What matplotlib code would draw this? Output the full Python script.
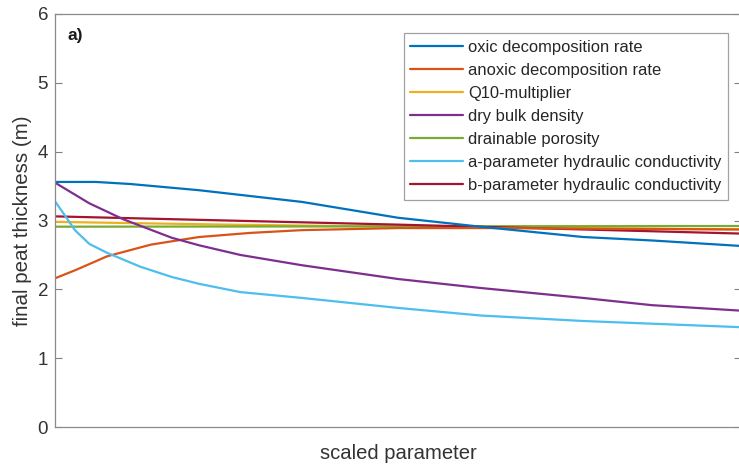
import matplotlib
matplotlib.use("Agg")
import matplotlib.pyplot as plt

plt.rcParams['font.family'] = ['Liberation Sans', 'DejaVu Sans']

# scaled parameter positions (0..1) and final peat thickness (m)
labels = ["oxic decomposition rate", "anoxic decomposition rate", "Q10-multiplier",
          "dry bulk density", "drainable porosity",
          "a-parameter hydraulic conductivity", "b-parameter hydraulic conductivity"]
colors = ["#0072BD", "#D95319", "#EDB120", "#7E2F8E", "#77AC30", "#4DBEEE", "#A2142F"]

oxic_x = [0.0, 0.06, 0.11, 0.21, 0.36, 0.50, 0.62, 0.77, 0.87, 1.0]
oxic_y = [3.56, 3.56, 3.53, 3.44, 3.27, 3.04, 2.91, 2.76, 2.71, 2.63]

anoxic_x = [0.0, 0.03, 0.076, 0.14, 0.21, 0.285, 0.36, 0.50, 0.65, 0.80, 1.0]
anoxic_y = [2.16, 2.28, 2.48, 2.65, 2.76, 2.82, 2.86, 2.89, 2.89, 2.88, 2.87]

q10_x = [0.0, 0.25, 0.5, 0.75, 1.0]
q10_y = [2.98, 2.94, 2.91, 2.89, 2.87]

bulk_x = [0.0, 0.05, 0.099, 0.17, 0.21, 0.27, 0.36, 0.50, 0.62, 0.77, 0.87, 1.0]
bulk_y = [3.55, 3.25, 3.02, 2.75, 2.64, 2.50, 2.35, 2.15, 2.02, 1.875, 1.77, 1.69]

drain_x = [0.0, 1.0]
drain_y = [2.91, 2.92]

a_x = [0.0, 0.016, 0.029, 0.05, 0.076, 0.124, 0.17, 0.21, 0.27, 0.36, 0.50, 0.62, 0.77, 1.0]
a_y = [3.28, 3.05, 2.86, 2.66, 2.53, 2.33, 2.18, 2.08, 1.96, 1.875, 1.73, 1.62, 1.54, 1.45]

b_x = [0.0, 0.5, 1.0]
b_y = [3.06, 2.94, 2.81]

xs = [oxic_x, anoxic_x, q10_x, bulk_x, drain_x, a_x, b_x]
ys = [oxic_y, anoxic_y, q10_y, bulk_y, drain_y, a_y, b_y]
order = [2, 4, 6, 1, 3, 5, 0]

yticks = [0, 1, 2, 3, 4, 5, 6]

fig = plt.figure(figsize=(7.39, 4.68), dpi=100)
ax = fig.add_axes([55/739, 41/468, 686/739, 413/468])

handles = {}
for i in order:
    ln, = ax.plot(xs[i], ys[i], color=colors[i], lw=1.6, label=labels[i],
                  solid_capstyle='round', solid_joinstyle='round')
    handles[i] = ln

ax.set_xlim(0, 1)
ax.set_ylim(0, 6)
ax.set_yticks(yticks)
ax.set_xticks([])
ax.tick_params(axis='y', direction='in', length=5, width=0.8, colors='#808080',
               labelcolor='#333333', labelsize=13.5, right=True, pad=5)
for s in ax.spines.values():
    s.set_color('#8a8a8a')
    s.set_linewidth(0.9)

ax.set_ylabel("final peat thickness (m)", fontsize=14.8, color='#333333', labelpad=4)
ax.set_xlabel("scaled parameter", fontsize=14.6, color='#333333', labelpad=12)

ax.text(0.018, 0.966, "a)", transform=ax.transAxes, fontsize=12.5, fontweight='bold',
        va='top', ha='left', color='#1a1a1a')

leg = ax.legend([handles[i] for i in range(7)], labels, loc='upper right',
                bbox_to_anchor=(0.981, 0.954), fontsize=11.9, frameon=True,
                fancybox=False, edgecolor='#8a8a8a', handlelength=3.2,
                handletextpad=0.3, labelspacing=0.49, borderpad=0.4,
                borderaxespad=0.0)
leg.get_frame().set_linewidth(0.9)
for t in leg.get_texts():
    t.set_color('#262626')

fig.savefig("out.png", dpi=100)
